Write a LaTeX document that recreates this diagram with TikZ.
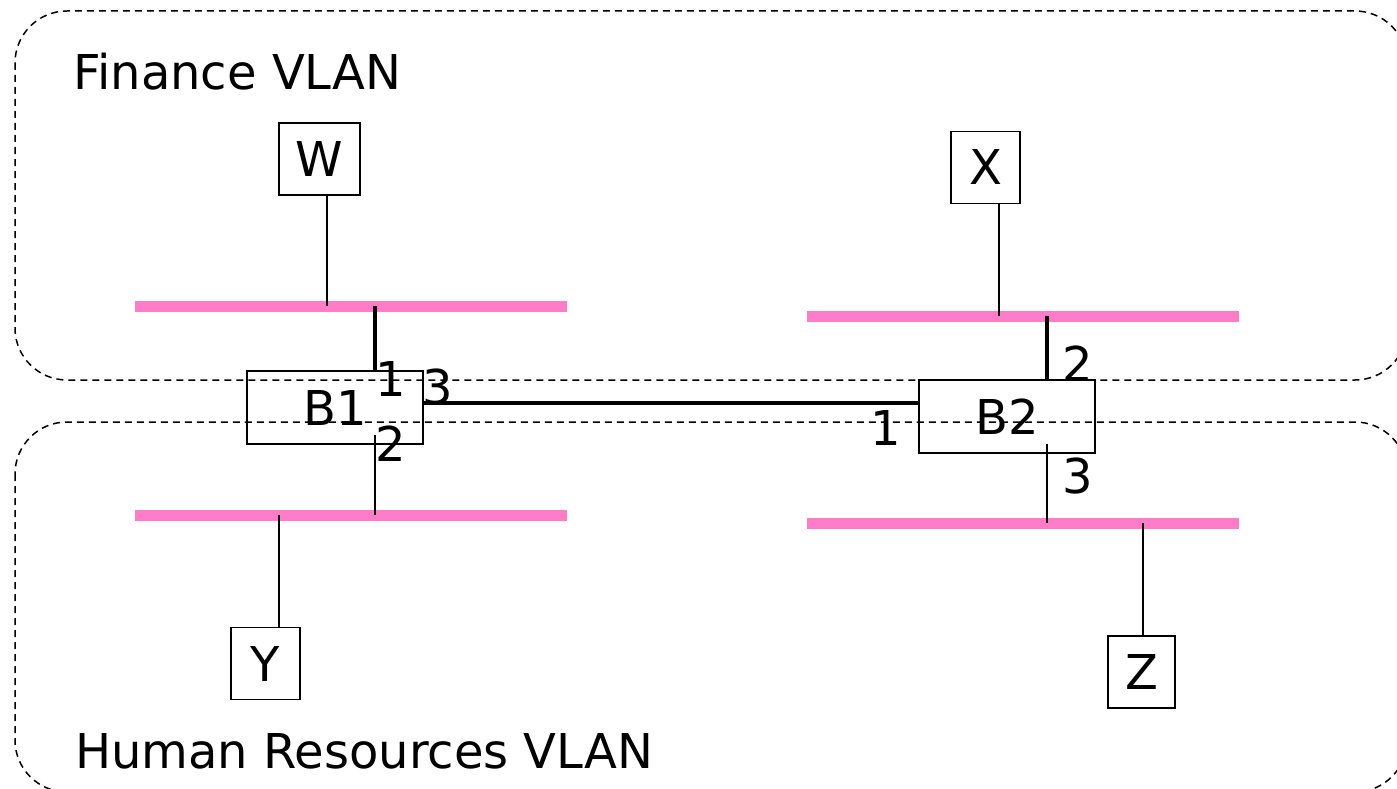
\documentclass[tikz,border=0pt]{standalone}
\usepackage{fontspec}
\setmainfont{DejaVu Sans}
\usetikzlibrary{positioning}
\definecolor{lanpink}{RGB}{255,125,200}

\begin{document}
\begin{tikzpicture}[x=1pt, y=-1pt, every node/.style={font=\fontsize{48}{58}\selectfont, inner sep=0pt},
    vlan/.style={draw, line width=1.5pt, rounded corners=52pt, dash pattern=on 7pt off 5pt},
    lan/.style={fill=lanpink, minimum width=432pt, minimum height=11pt},
    station/.style={draw, line width=1.8pt, minimum height=72pt},
    bridge/.style={draw, line width=1.8pt, minimum width=176pt, minimum height=73pt},
    tap/.style={line width=2pt},
    trunk/.style={line width=3.5pt}]
    \clip (0,0) rectangle (1397,789);
    % VLAN areas
    \draw[vlan] (15,11) rectangle (1407,380);
    \draw[vlan] (15,422) rectangle (1407,792);
    \node[anchor=base west] (Fin) at (73,90) {Finance VLAN};
    \node[anchor=base west] (HR) at (75,768) {Human Resources VLAN};
    % LAN segments
    \node[lan] (LanFL) at (351,306) {};
    \node[lan] (LanHL) at (351,515) {};
    \node[lan] (LanFR) at (1023,316) {};
    \node[lan] (LanHR) at (1023,523) {};
    % stations and bridges
    \node[station, minimum width=81pt] (W) at (319.5,159) {W};
    \node[station, minimum width=69pt] (X) at (985.5,167.5) {X};
    \node[station, minimum width=69pt] (Y) at (265.5,663.5) {Y};
    \node[station, minimum width=67pt] (Z) at (1141.5,672) {Z};
    \node[bridge] (B1) at (335,407.5) {B1};
    \node[bridge] (B2) at (1007,416.5) {B2};
    \draw[tap] ([xshift=7.5pt]W.south) -- ([xshift=7.5pt]W.south |- LanFL.center);
    \draw[tap] ([xshift=13.5pt]X.south) -- ([xshift=13.5pt]X.south |- LanFR.center);
    \draw[tap] ([xshift=13.5pt]Y.north) -- ([xshift=13.5pt]Y.north |- LanHL.center);
    \draw[tap] ([xshift=1.5pt]Z.north) -- ([xshift=1.5pt]Z.north |- LanHR.center);
    % bridge ports
    \draw[trunk] ([xshift=40pt]B1.north) -- ([xshift=40pt]B1.north |- LanFL.center);
    \draw[tap] ([xshift=40pt, yshift=-27.5pt]B1.center) -- ([xshift=40pt]B1.center |- LanHL.center);
    \draw[trunk] ([yshift=4.5pt]B1.east) -- ([yshift=4.5pt]B1.east -| B2.west);
    \draw[trunk] ([xshift=40pt]B2.north) -- ([xshift=40pt]B2.north |- LanFR.center);
    \draw[tap] ([xshift=40pt, yshift=-27.5pt]B2.center) -- ([xshift=40pt]B2.center |- LanHR.center);
    \node (B1p1) at (391,379) {1};
    \node (B1p2) at (391,444) {2};
    \node (B1p3) at (438,387) {3};
    \node (B2p1) at (886,428) {1};
    \node (B2p2) at (1078,364) {2};
    \node (B2p3) at (1078,476) {3};
\end{tikzpicture}
\end{document}
